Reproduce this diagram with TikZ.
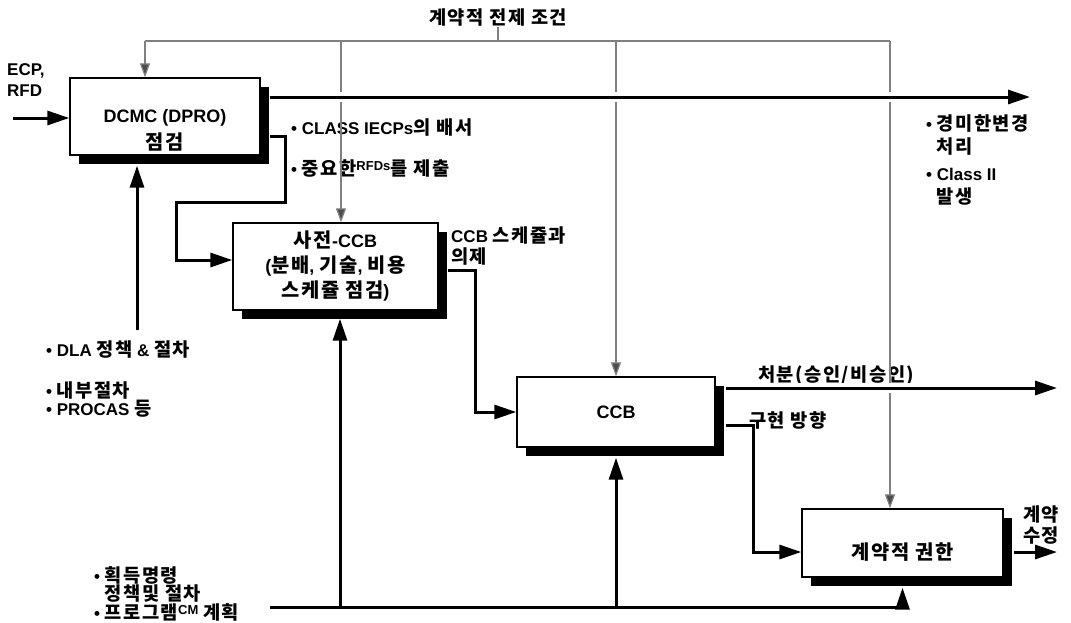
\documentclass[tikz,border=0pt]{standalone}
\usepackage{fontspec}
\setmainfont{Liberation Sans}
\newfontfamily\krfont{Noto Sans CJK KR}[Scale=1.1,LetterSpace=8]
\newcommand{\kr}[1]{{\krfont #1}}
\newcommand{\up}[1]{\raisebox{5pt}{\fontsize{13}{13}\selectfont #1}}
\usepackage{tikz}
\usetikzlibrary{positioning,calc,arrows.meta,shadows}
\tikzset{
  proc/.style={draw,line width=1.4pt,fill=white,align=center,
    font=\bfseries\fontsize{18}{26}\selectfont,
    drop shadow={shadow xshift=9pt,shadow yshift=-9pt,fill=black,opacity=1}},
  flow/.style={line width=3pt,-{Triangle[length=22pt,width=14pt]}},
  plain/.style={line width=3pt},
  cond/.style={draw=black!50,line width=1.2pt},
  condarr/.style={cond,-{Triangle[length=14pt,width=10pt,fill=black!70]}},
  halo/.style={preaction={draw=white,line width=10pt,-}},
  lbl/.style={font=\bfseries\fontsize{17}{21}\selectfont,inner sep=1pt,align=left},
}

\begin{document}
\begin{tikzpicture}[x=1pt,y=-1pt]
  \useasboundingbox (0,0) rectangle (1071,622);
  % boxes
  \node[proc,minimum width=190pt,minimum height=77pt] (dcmc) at (165,116.5)
    {\rule{0pt}{40pt}DCMC (DPRO)\\[1pt]\kr{점검}};
  \node[proc,minimum width=205pt,minimum height=87pt,font=\bfseries\fontsize{18}{25}\selectfont] (pre) at (335.5,266.5)
    {\kr{사전}-CCB\\(\kr{분배}, \kr{기술}, \kr{비용}\\\kr{스케쥴 점검})};
  \node[proc,minimum width=198pt,minimum height=70pt] (ccb) at (616,412) {CCB};
  \node[proc,minimum width=201pt,minimum height=68pt] (auth) at (902.5,543) {\rule{0pt}{34pt}\kr{계약적 권한}};

  % texts
  \node[lbl] (title) at (498,17) {\kr{계약적 전제 조건}};
  \node[lbl,anchor=north west] (ecp) at (6,62) {ECP,\\RFD};
  \node[lbl,anchor=west,fill=white] (endorse) at (290,128) {• CLASS IECPs\kr{의 배서}};
  \node[lbl,anchor=west,fill=white] (submit) at (290,168) {• \kr{중요한}\up{RFDs}\kr{를 제출}};
  \node[lbl,anchor=north west] (agenda) at (450,226) {CCB \kr{스케쥴과}\\\kr{의제}};
  \node[lbl,anchor=north west,font=\bfseries\fontsize{17}{23}\selectfont] (minor) at (925,113)
    {• \kr{경미한변경}\\\phantom{• }\kr{처리}\\[4pt]• Class II\\\phantom{• }\kr{발생}};
  \node[lbl,anchor=south west] (dispo) at (757,387) {\kr{처분(승인/비승인)}};
  \node[lbl,anchor=west] (impl) at (748,420) {\kr{구현 방향}};
  \node[lbl,anchor=north west] (amend) at (1022,505) {\kr{계약}\\\kr{수정}};
  \node[lbl,anchor=west] (dla) at (45,350) {• DLA \kr{정책} \& \kr{절차}};
  \node[lbl,anchor=north west,font=\bfseries\fontsize{17}{18}\selectfont] (internal) at (45,381)
    {• \kr{내부절차}\\• PROCAS \kr{등}};
  \node[lbl,anchor=north west,font=\bfseries\fontsize{17}{17}\selectfont] (acq) at (93,565)
    {• \kr{획득명령}\\\phantom{• }\kr{정책및 절차}\\• \kr{프로그램}\up{CM} \kr{계획}};

  % contractual conditions (thin lines)
  \coordinate (cl) at (145,41);
  \coordinate (cr) at (890,41);
  \draw[cond] (cl) -- (cr);
  \draw[cond] (title.south) -- (title.south |- cl);
  \draw[condarr] (cl) -- (cl |- dcmc.north);
  \draw[condarr] (cl -| 341,0) -- (pre.north -| 341,0);
  \draw[condarr] (cl -| ccb.north) -- (ccb.north);
  \draw[condarr] (cr) -- (cr |- auth.north);

  % main flows
  \coordinate (ecpin) at (13,118);
  \draw[flow] (ecpin) -- (ecpin -| dcmc.west);
  \coordinate (outend) at (1030,97);
  \draw[flow,halo] ($(dcmc.east |- outend)+(9,0)$) -- (outend);
  \draw[flow] ($(dcmc.east)+(9,19.5)$) -| (285,202) -| (176,260) -- (pre.west |- 0,260);
  \draw[flow] ($(pre.east)+(9,3.5)$) -| (475,412) -- (ccb.west);
  \coordinate (dispend) at (1057,388);
  \draw[flow,halo] ($(ccb.east |- dispend)+(10,0)$) -- (dispend);
  \draw[flow] ($(ccb.east)+(10,13)$) -| (753,552) -- (auth.west |- 0,552);
  \coordinate (amendend) at (1057,552);
  \draw[flow] ($(auth.east |- amendend)+(10,0)$) -- (amendend);

  % inputs from below
  \coordinate (dlain) at (137,330);
  \draw[flow] (dlain) -- ($(dlain |- dcmc.south)+(0,10)$);
  \coordinate (bot) at (270,607);
  \draw[plain] (bot) -- (bot -| auth.south);
  \draw[flow] (bot -| 340,0) -- ($(pre.south -| 340,0)+(0,8)$);
  \draw[flow] (bot -| ccb.south) -- ($(ccb.south)+(0,10)$);
  \draw[flow] (bot -| auth.south) -- ($(auth.south)+(0,10)$);
\end{tikzpicture}
\end{document}
